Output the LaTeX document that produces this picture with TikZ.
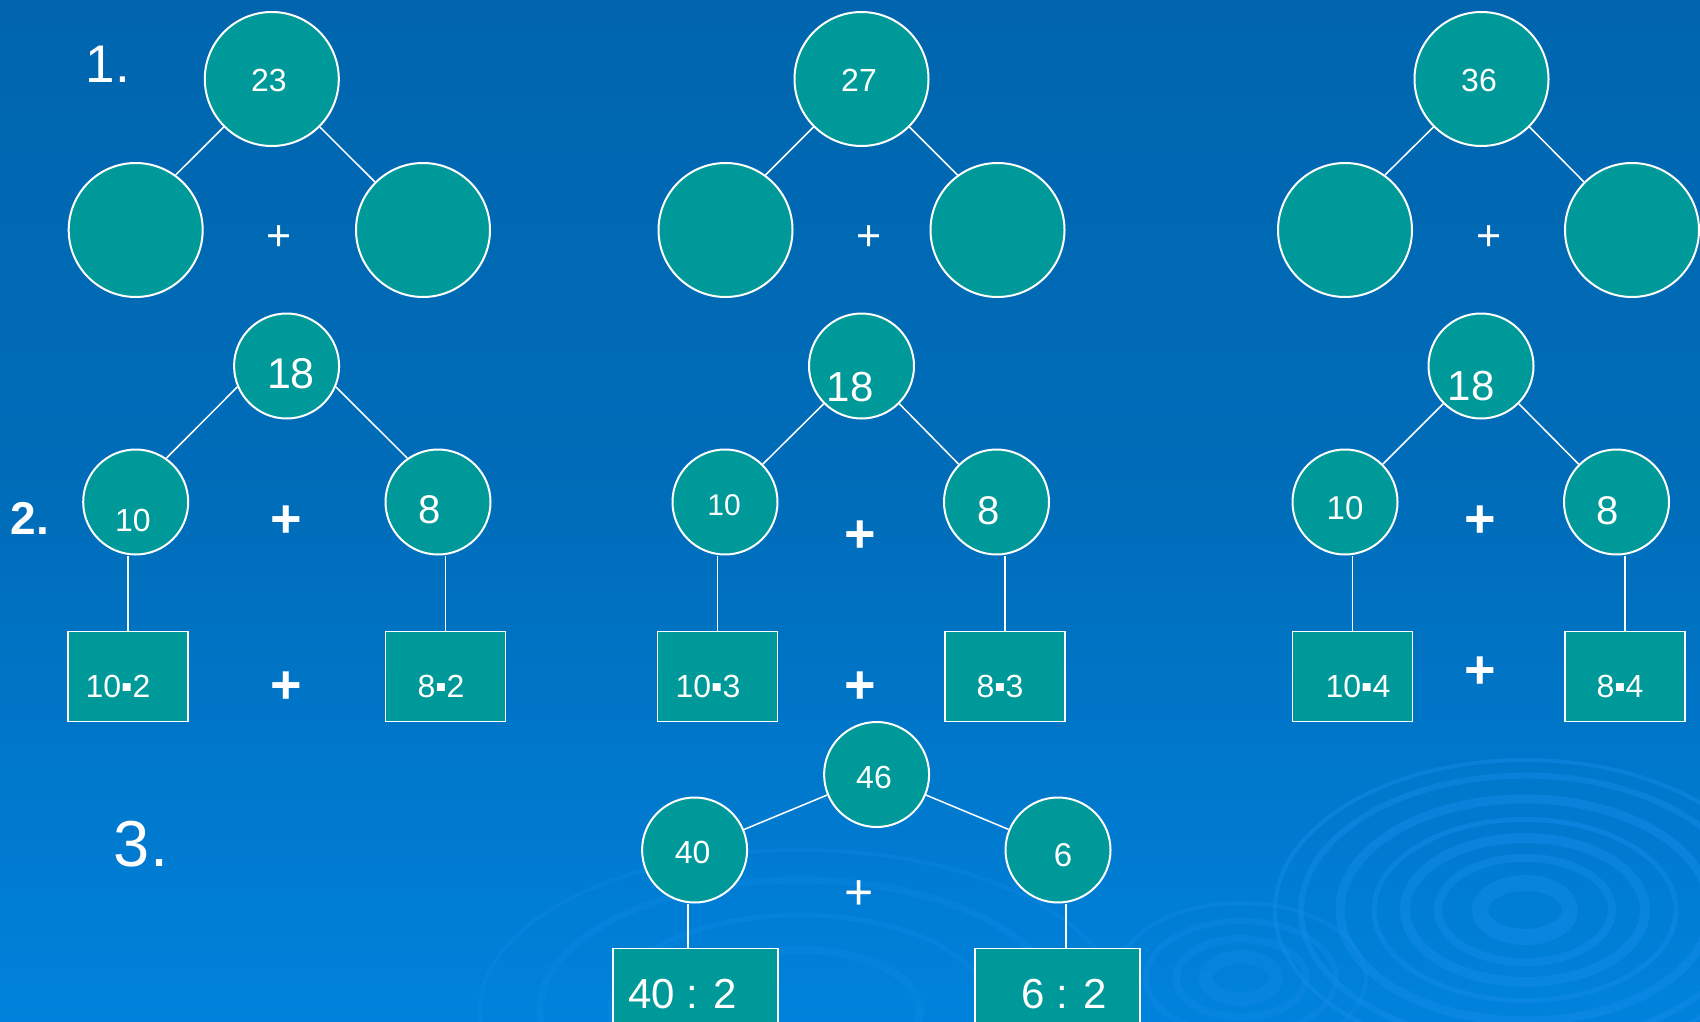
\documentclass[tikz,border=0pt]{standalone}
\usepackage{fontspec}
\setmainfont{Liberation Sans}
\definecolor{sea}{RGB}{0,153,153}
\definecolor{skytop}{RGB}{0,101,174}
\definecolor{skymid}{RGB}{0,109,186}
\definecolor{skybot}{RGB}{0,130,220}
\definecolor{ripple}{RGB}{20,142,234}
\newcommand{\fs}[1]{\fontsize{#1}{#1}\selectfont}

\begin{document}
\begin{tikzpicture}[x=1pt,y=-1pt]
  \tikzstyle{ball}=[circle,draw=white,line width=2pt,fill=sea,inner sep=0pt]
  \tikzstyle{big}=[ball,minimum size=134pt]
  \tikzstyle{small}=[ball,minimum size=105pt]
  \tikzstyle{tile}=[rectangle,draw=white,line width=1.5pt,fill=sea,inner sep=0pt,minimum width=120pt,minimum height=90pt]
  \tikzstyle{num}=[text=white,inner sep=0pt]
  \tikzstyle{link}=[draw=white,line width=1.5pt]
  \tikzstyle{wave}=[draw=ripple,opacity=0.45]
  \clip (0,0) rectangle (1700,1022);
  \shade[top color=skytop,bottom color=skybot,middle color=skymid] (0,0) rectangle (1700,1022);
  \foreach \r/\w in {45/16,87/8,120/10,151/5,185/9,224/6,250/4}
    \draw[wave,line width=\w pt] (1525,910) ellipse ({\r} and {0.6*\r});
  \foreach \r/\w in {35/14,65/8,95/6,125/4}
    \draw[wave,line width=\w pt,opacity=0.3] (1241,978) ellipse ({\r} and {0.6*\r});
  \foreach \r/\w in {120/8,190/5,260/7,320/4}
    \draw[wave,line width=\w pt,opacity=0.25] (800,1010) ellipse ({\r} and {0.5*\r});

  \node[num,font=\fs{53}] (N1) at (108,64) {1.};
  \node[num,font=\bfseries\fs{46}] (N2) at (30,518) {2.};
  \node[num,font=\fs{65}] (N3) at (141,844) {3.};

  \node[big] (A) at (271.8,79) {};
  \node[big] (Al) at (135.7,230) {};
  \node[big] (Ar) at (423,230) {};
  \node[big] (B) at (861.5,79) {};
  \node[big] (Bl) at (725.5,230) {};
  \node[big] (Br) at (997.5,230) {};
  \node[big] (C) at (1481.5,79) {};
  \node[big] (Cl) at (1345,230) {};
  \node[big] (Cr) at (1632,230) {};
  \draw[link] (A.-135) -- (Al.54); \draw[link] (A.-45) -- (Ar.135);
  \draw[link] (B.-135) -- (Bl.54); \draw[link] (B.-45) -- (Br.126);
  \draw[link] (C.-135) -- (Cl.54); \draw[link] (C.-45) -- (Cr.135);
  \node[num,font=\fs{32}] (At) at (269,80) {23};
  \node[num,font=\fs{32}] (Bt) at (859,80) {27};
  \node[num,font=\fs{32}] (Ct) at (1479,80) {36};
  \node[num,font=\fs{43}] (Ap) at (279,238) {+};
  \node[num,font=\fs{43}] (Bp) at (869,238) {+};
  \node[num,font=\fs{43}] (Cp) at (1489,238) {+};

  \node[small] (D) at (286.6,366) {};
  \node[small] (Dl) at (135.7,502) {};
  \node[small] (Dr) at (438,502) {};
  \node[tile] (Dlb) at (128,676.5) {};
  \node[tile] (Drb) at (445.5,676.5) {};
  \draw[link] (D.203) -- (Dl.55); \draw[link] (D.-23) -- (Dr.125);
  \draw[link] (Dlb.north) -- (Dlb.north |- Dl.south);
  \draw[link] (Drb.north) -- (Drb.north |- Dr.south);
  \node[num,font=\fs{43}] (Dt) at (291,374) {18};
  \node[num,font=\fs{32}] (Dlt) at (133,520) {10};
  \node[num,font=\fs{40}] (Drt) at (429.6,510) {8};
  \node[num,font=\fs{32}] (Dlbt) at (118,686) {10▪2};
  \node[num,font=\fs{32}] (Drbt) at (441,686) {8▪2};
  \node[num,font=\bfseries\fs{54}] (Dp) at (286,522) {+};
  \node[num,font=\bfseries\fs{54}] (Dbp) at (286,688) {+};

  \node[small] (E) at (861.5,366) {};
  \node[small] (El) at (725,502) {};
  \node[small] (Er) at (996.5,502) {};
  \node[tile] (Elb) at (717.5,676.5) {};
  \node[tile] (Erb) at (1005,676.5) {};
  \draw[link] (E.-135) -- (El.45); \draw[link] (E.-45) -- (Er.135);
  \draw[link] (Elb.north) -- (Elb.north |- El.south);
  \draw[link] (Erb.north) -- (Erb.north |- Er.south);
  \node[num,font=\fs{42}] (Et) at (850,387) {18};
  \node[num,font=\fs{30}] (Elt) at (724,505) {10};
  \node[num,font=\fs{40}] (Ert) at (989,511) {8};
  \node[num,font=\fs{32}] (Elbt) at (708,686) {10▪3};
  \node[num,font=\fs{32}] (Erbt) at (1000,686) {8▪3};
  \node[num,font=\bfseries\fs{54}] (Ep) at (860,537) {+};
  \node[num,font=\bfseries\fs{54}] (Ebp) at (860,688) {+};

  \node[small] (F) at (1481,366) {};
  \node[small] (Fl) at (1345,502) {};
  \node[small] (Fr) at (1616.5,502) {};
  \node[tile] (Flb) at (1352.5,676.5) {};
  \node[tile] (Frb) at (1625,676.5) {};
  \draw[link] (F.-135) -- (Fl.45); \draw[link] (F.-45) -- (Fr.135);
  \draw[link] (Flb.north) -- (Flb.north |- Fl.south);
  \draw[link] (Frb.north) -- (Frb.north |- Fr.south);
  \node[num,font=\fs{42}] (Ft) at (1471,386) {18};
  \node[num,font=\fs{33}] (Flt) at (1345,508) {10};
  \node[num,font=\fs{40}] (Frt) at (1608,511) {8};
  \node[num,font=\fs{32}] (Flbt) at (1358,686) {10▪4};
  \node[num,font=\fs{32}] (Frbt) at (1620,686) {8▪4};
  \node[num,font=\bfseries\fs{54}] (Fp) at (1480,522) {+};
  \node[num,font=\bfseries\fs{54}] (Fbp) at (1480,673) {+};

  \node[small] (G) at (876.6,774.5) {};
  \node[small] (Gl) at (694.6,850) {};
  \node[small] (Gr) at (1058,850) {};
  \node[tile,minimum width=165pt] (Glb) at (695.4,993.5) {};
  \node[tile,minimum width=165pt] (Grb) at (1057.4,993.5) {};
  \draw[link] (G) -- (Gl); \draw[link] (G) -- (Gr);
  \draw[link] ([xshift=-7.4pt]Glb.north) -- ([xshift=-7.4pt]Glb.north |- Gl.south);
  \draw[link] ([xshift=8.6pt]Grb.north) -- ([xshift=8.6pt]Grb.north |- Gr.south);
  \node[num,font=\fs{32}] (Gt) at (874,777) {46};
  \node[num,font=\fs{32}] (Glt) at (692.6,852) {40};
  \node[num,font=\fs{33}] (Grt) at (1063,855) {6};
  \node[num,font=\fs{42}] (Glbt) at (682.6,994) {40 : 2};
  \node[num,font=\fs{42}] (Grbt) at (1064,994) {6 : 2};
  \node[num,font=\fs{50}] (Gp) at (859,895) {+};
\end{tikzpicture}
\end{document}
